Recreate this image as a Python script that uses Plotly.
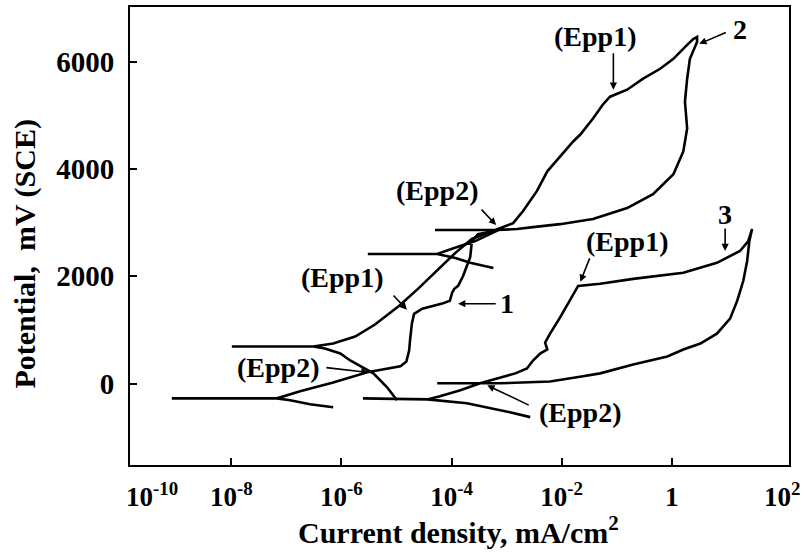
import plotly.graph_objects as go

# ---- data: log10(current density, mA/cm2) and potential (mV SCE) ----
c1_logi = [-6.15, -6.57, -6.93, -7.17, -9.08, -7.17, -6.75, -6.15, -5.53, -5.21, -4.93, -4.82,
           -4.77, -4.75, -4.72, -4.68, -4.53, -4.17, -4.03, -3.99, -3.95, -3.88, -3.79, -3.72,
           -3.66, -3.63, -3.52, -3.15, -3.57, -3.99, -4.26, -5.52, -4.26, -3.93, -3.66, -3.24]
c1_E = [-440, -385, -310, -275, -275, -275, -145, 20, 210, 265, 320, 410,
        615, 840, 1115, 1300, 1395, 1490, 1545, 1690, 1765, 1820, 2005, 2195,
        2360, 2655, 2785, 2860, 2655, 2510, 2415, 2415, 2415, 2340, 2250, 2155]

c2_logi = [-4.99, -5.17, -5.42, -5.61, -5.84, -6.02, -6.30, -6.51, -7.99, -6.51, -6.15, -5.75,
           -5.39, -4.95, -4.61, -4.24, -3.93, -3.63, -3.17, -2.88, -2.70, -2.45, -2.26, -2.03,
           -1.79, -1.66, -1.43, -1.25, -1.12, -0.81, -0.52, -0.21, 0.03, 0.28, 0.39, 0.46,
           0.46, 0.33, 0.28, 0.24, 0.28, 0.21, 0.03, -0.34, -0.81, -1.43, -2.03, -2.52,
           -2.81, -3.17, -4.30]
c2_E = [-310, -70, 190, 300, 430, 560, 655, 690, 690, 690, 745, 875,
        1100, 1450, 1765, 2135, 2435, 2695, 2880, 2990, 3215, 3585, 3955, 4235,
        4510, 4640, 4940, 5200, 5345, 5475, 5680, 5865, 6050, 6310, 6420, 6460,
        6365, 6050, 5680, 5255, 4755, 4325, 3900, 3530, 3270, 3065, 2970, 2915,
        2880, 2860, 2860]

c3_logi = [-2.57, -2.94, -3.72, -4.21, -4.44, -5.61, -4.44, -4.21, -3.84, -3.48, -3.12, -2.84,
           -2.63, -2.52, -2.39, -2.26, -2.30, -2.21, -2.03, -1.85, -1.70, -1.30, -0.70, 0.21,
           0.82, 1.24, 1.39, 1.46, 1.41, 1.37, 1.30, 1.19, 1.06, 0.82, 0.52, 0.21,
           -0.08, -0.70, -1.30, -1.61, -2.21, -3.12, -3.48, -4.26]
c3_E = [-625, -535, -365, -310, -295, -275, -295, -235, -125, 5, 115, 190,
        280, 430, 560, 635, 765, 930, 1230, 1545, 1820, 1860, 1950, 2065,
        2250, 2470, 2655, 2880, 2655, 2285, 1915, 1545, 1210, 930, 745, 635,
        505, 355, 190, 135, 40, 5, 5, 5]

x_tickvals = [1e-8, 1e-6, 1e-4, 1e-2, 1]
x_ticktext = ["10<sup>-8</sup>", "10<sup>-6</sup>", "10<sup>-4</sup>", "10<sup>-2</sup>", "1"]
y_tickvals = [0, 2000, 4000, 6000]
y_ticktext = ["0", "2000", "4000", "6000"]

# labels: text, log10(i), E
label_text = ["(Epp1)", "2", "(Epp2)", "(Epp1)", "1", "(Epp2)", "(Epp1)", "3", "(Epp2)"]
label_logi = [-1.39, 1.24, -4.26, -5.99, -2.99, -7.15, -0.81, 0.97, -1.66]
label_E = [6459, 6589, 3602, 1970, 1488, 300, 2638, 3157, -534]

# pointer arrows: head (log10 i, E) and tail (log10 i, E)
arrow_head_logi = [-1.06, 0.50, -3.19, -4.81, -3.88, -5.51, -1.66, 0.97, -3.35]
arrow_head_E = [5476, 6329, 2953, 1376, 1488, 208, 1896, 2471, -33]
arrow_tail_logi = [-1.06, 1.01, -3.48, -5.08, -3.17, -6.30, -1.48, 0.97, -2.57]
arrow_tail_E = [6181, 6552, 3268, 1669, 1488, 300, 2360, 2916, -415]

SERIF = "Liberation Serif"

fig = go.Figure()
for logi, E in [(c1_logi, c1_E), (c2_logi, c2_E), (c3_logi, c3_E)]:
    fig.add_trace(go.Scatter(
        x=[10 ** v for v in logi], y=E, mode="lines",
        line=dict(color="black", width=2.6), showlegend=False, hoverinfo="skip"))

annotations = []
for t, lx, e in zip(label_text, label_logi, label_E):
    annotations.append(dict(x=lx, y=e, xref="x", yref="y", text="<b>" + t + "</b>", showarrow=False,
                            font=dict(family=SERIF, size=28, color="black"),
                            xanchor="center", yanchor="middle"))
for hx, hy, tx, ty in zip(arrow_head_logi, arrow_head_E, arrow_tail_logi, arrow_tail_E):
    annotations.append(dict(x=hx, y=hy, ax=tx, ay=ty, xref="x", yref="y", axref="x", ayref="y",
                            text="", showarrow=True, arrowhead=2, arrowsize=0.9,
                            arrowwidth=1.6, arrowcolor="black", standoff=0))

# extreme x tick labels (axis ends)
annotations.append(dict(x=0.034, y=-0.066, xref="paper", yref="paper", text="<b>10<sup>-10</sup></b>",
                        showarrow=False, font=dict(family=SERIF, size=27, color="black"),
                        xanchor="center", yanchor="middle"))
annotations.append(dict(x=0.99, y=-0.066, xref="paper", yref="paper", text="<b>10<sup>2</sup></b>",
                        showarrow=False, font=dict(family=SERIF, size=27, color="black"),
                        xanchor="center", yanchor="middle"))
# axis titles
annotations.append(dict(x=0.499, y=-0.141, xref="paper", yref="paper",
                        text="<b>Current density, mA/cm<sup>2</sup></b>", showarrow=False,
                        font=dict(family=SERIF, size=30, color="black"),
                        xanchor="center", yanchor="middle"))
annotations.append(dict(x=-0.159, y=0.46, xref="paper", yref="paper",
                        text="<b>Potential,  mV (SCE)</b>", showarrow=False, textangle=-90,
                        font=dict(family=SERIF, size=30, color="black"),
                        xanchor="center", yanchor="middle"))

fig.update_layout(
    width=805, height=554,
    margin=dict(l=130, r=16, t=5, b=89),
    paper_bgcolor="white", plot_bgcolor="white",
    font=dict(family=SERIF, color="black"),
    annotations=annotations,
    xaxis=dict(type="log", range=[-9.84, 2.13], tickvals=x_tickvals,
               ticktext=["<b>" + t + "</b>" for t in x_ticktext],
               ticks="inside", ticklen=7, tickwidth=2, tickcolor="black",
               showline=True, linecolor="black", linewidth=2, mirror=True,
               showgrid=False, zeroline=False, ticklabelstandoff=7,
               tickfont=dict(family=SERIF, size=27, color="black")),
    yaxis=dict(range=[-1517, 7016], tickvals=y_tickvals,
               ticktext=["<b>" + t + "</b>" for t in y_ticktext],
               ticks="inside", ticklen=7, tickwidth=2, tickcolor="black",
               showline=True, linecolor="black", linewidth=2, mirror=True,
               showgrid=False, zeroline=False, ticklabelstandoff=8,
               tickfont=dict(family=SERIF, size=29, color="black")),
)

fig.write_html("out.html", config={"displayModeBar": False},
               post_script="document.body.style.margin='0px';")
